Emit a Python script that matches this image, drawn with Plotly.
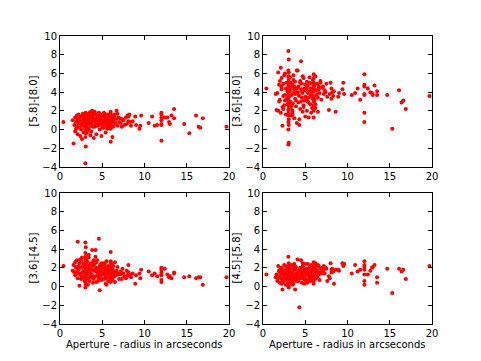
import plotly.graph_objects as go

# Shared aperture radius (arcseconds) per source
aperture = [
    1.5, 1.6, 1.7, 1.8, 1.8, 1.9, 2.0, 2.0, 2.1, 2.1, 2.2, 2.2, 2.3, 2.3, 2.4, 2.4, 2.5, 2.5, 2.6, 2.6,
    2.7, 2.7, 2.8, 2.8, 2.9, 2.9, 1.9, 2.2, 2.4, 2.6,
    3.0, 3.05, 3.0, 3.05, 3.0, 3.05, 3.0, 3.05, 3.0, 3.05, 3.0, 3.05, 3.0, 3.05, 3.0, 3.05, 3.0, 3.05, 3.0, 3.05,
    3.0, 3.05, 3.0, 3.05, 3.0, 3.05, 3.0, 3.05, 3.0, 3.05,
    3.1, 3.2, 3.2, 3.3, 3.3, 3.4, 3.4, 3.5, 3.5, 3.6, 3.6, 3.7, 3.7, 3.8, 3.8, 3.9, 3.9, 4.0, 4.0, 3.1,
    3.3, 3.5, 3.7, 3.9, 3.2, 3.4, 3.6, 3.8, 4.0, 3.5,
    4.1, 4.1, 4.2, 4.2, 4.3, 4.3, 4.4, 4.4, 4.5, 4.5, 4.6, 4.6, 4.7, 4.7, 4.8, 4.8, 4.9, 4.9, 5.0, 5.0,
    4.2, 4.4, 4.6, 4.8, 5.0, 4.1, 4.3, 4.5, 4.7, 4.9,
    5.1, 5.1, 5.2, 5.2, 5.3, 5.3, 5.4, 5.4, 5.5, 5.5, 5.6, 5.6, 5.7, 5.7, 5.8, 5.8, 5.9, 5.9, 5.2, 5.4,
    5.6, 5.8, 5.3, 5.5, 5.7,
    6.0, 6.0, 6.0, 6.0, 6.0, 6.0, 6.0, 6.0, 6.0, 6.0, 6.0, 6.0,
    6.1, 6.1, 6.2, 6.2, 6.3, 6.3, 6.4, 6.5, 6.5, 6.6, 6.7, 6.8, 6.9, 7.0, 6.2, 6.4, 6.6, 6.8,
    7.1, 7.2, 7.3, 7.5, 7.6, 7.8, 7.9, 8.0, 8.1, 8.1, 8.2, 8.4, 8.6, 8.9, 9.0, 9.4, 9.5, 9.6, 7.4, 8.3,
    0.4, 10.5, 10.9, 11.2, 11.5, 12.0, 12.0, 12.0, 12.0, 12.0, 12.0, 12.0, 12.4, 12.7, 12.9, 13.0, 13.2,
    13.5, 13.5, 14.7, 15.3, 16.1, 16.4, 16.6, 16.9, 19.7,
]

# [5.8]-[8.0] colour
c58_80 = [
    1.0, -1.5, 0.5, 1.3, -0.2, 0.8, 1.5, 0.3, 1.1, -0.5, 0.6, 1.6, 0.2, 1.2, -0.7, 0.9, 1.4, 0.0, -1.0, 0.7,
    1.7, 0.4, -0.3, 1.1, 0.8, 1.5, 0.1, 1.0, 0.5, 1.3,
    -3.6, -1.8, -0.8, -0.4, 0.05, 0.2, 0.45, 0.5, 0.65, 0.7, 0.85, 0.9, 1.05, 1.1, 1.2, 1.35, 1.4, 1.55, 1.6, 1.8,
    0.3, 0.6, 0.95, 1.25, -0.2, 0.55, 1.0, 1.45, 0.1, 0.8,
    0.4, 1.2, -0.3, 0.9, 1.6, 0.2, 1.1, 0.7, 1.8, -0.6, 1.3, 0.5, 1.9, 0.8, 2.0, 0.3, 1.5, 1.0, -0.9, 1.7,
    0.6, 1.4, -0.2, 1.2, 0.9, 0.0, 1.6, 0.4, 1.8, 1.1,
    1.0, 0.3, 1.7, 0.6, 1.2, -0.5, 0.9, 1.5, 0.4, 1.1, 1.8, 0.7, 0.0, 1.3, 0.8, 1.6, 0.5, 1.0, 1.4, 0.2,
    1.2, 0.7, 1.5, 1.1, 0.6, 1.9, 0.4, 1.3, 0.9, -0.7,
    0.6, 1.4, 1.0, 0.2, 1.7, 0.8, 1.2, -0.3, 0.5, 1.5, 0.9, 1.3, 0.4, 1.6, 0.7, 1.1, 1.4, 0.3, 1.8, 0.9,
    0.1, 1.2, 1.0, 0.6, 1.5,
    -1.3, 0.1, 0.4, 0.7, 0.9, 1.1, 1.3, 1.5, 1.7, 0.5, 1.0, 1.9,
    1.2, 0.5, -0.8, 1.5, 0.9, 0.3, 1.4, 0.7, 1.6, 1.1, 2.0, 0.4, 1.3, 0.8, 1.0, 1.2, 0.6, 1.7,
    1.2, 0.7, 0.3, 1.0, 0.5, 1.3, 0.6, 1.5, 1.4, 0.9, 1.6, 0.4, 0.9, 1.4, 0.5, 0.1, 0.4, 1.5, 1.1, 0.8,
    0.8, 0.7, 1.4, 0.4, 0.5, 1.8, 1.6, 1.3, 1.0, 0.6, 0.5, -1.2, 1.3, 1.3, 0.8, 0.6, 1.5,
    2.2, 1.2, 0.6, -0.4, 1.5, 0.3, 0.2, 1.2, 0.3,
]

# [3.6]-[8.0] colour
c36_80 = [
    3.8, 2.1, 3.9, 6.1, 2.0, 4.8, 5.2, 3.2, 6.6, 1.8, 4.3, 5.5, 2.4, 0.4, 3.6, 4.9, 5.8, 2.6, 3.1, 6.0,
    4.4, 1.6, 3.3, 5.0, 2.7, 4.1, 3.0, 4.6, 2.2, 3.7,
    8.4, 7.5, 6.3, 6.1, 5.7, 5.4, 5.1, 4.9, 4.6, 4.4, 4.2, 4.0, 3.8, 3.5, 3.2, 3.0, 2.7, 2.4, 2.1, 1.8,
    1.5, 1.1, 0.8, 0.5, 0.0, -1.4, -1.6, 4.7, 3.4, 2.9,
    4.1, 3.0, 5.6, 2.3, 4.5, 3.7, 1.5, 4.8, 2.8, 5.3, 3.9, 1.2, 4.3, 3.3, 5.1, 2.5, 4.0, 6.3, 0.7, 3.6,
    5.0, 2.0, 4.6, 3.1, 4.2, 2.6, 5.8, 3.8, 4.4, 1.7,
    4.0, 6.3, 2.9, 4.6, 0.5, 3.6, 5.2, 2.2, 4.3, 7.3, 3.4, 4.9, 1.9, 3.9, 5.5, 2.6, 4.4, 3.1, 4.8, 1.4,
    3.7, 5.0, 4.1, 2.4, 3.5, 4.5, 1.1, 3.0, 5.7, 4.2,
    4.3, 3.2, 5.1, 2.0, 3.9, 4.7, 1.3, 3.4, 4.1, 5.6, 2.7, 4.4, 3.7, 4.9, 2.3, 4.0, 3.3, 5.3, 4.6, 2.9,
    3.6, 4.2, 3.0, 5.0, 1.8,
    5.9, 5.5, 5.0, 4.6, 4.1, 3.6, 3.0, 2.6, 2.0, 1.3, 4.4, 3.3,
    4.8, 3.1, 5.7, 2.3, 4.2, 3.6, 4.9, 1.9, 3.4, 4.6, 3.9, 5.2, 3.2, 4.5, 2.7, 3.8, 4.3, 5.0,
    4.6, 3.8, 4.2, 4.9, 3.5, 2.1, 3.8, 5.0, 4.4, 3.3, 4.0, 4.1, 1.9, 3.5, 3.9, 4.3, 5.0, 3.8, 4.0, 3.6,
    4.4, 3.7, 3.9, 4.4, 3.2, 5.9, 4.8, 4.6, 3.8, 3.7, 1.8, 0.8, 4.4, 4.0, 3.9, 3.7, 4.7,
    4.1, 3.7, 3.7, 0.1, 4.2, 2.9, 3.1, 2.2, 3.6,
]

# [3.6]-[4.5] colour
c36_45 = [
    1.7, 2.3, 1.5, 2.6, 1.2, 2.0, 2.8, 1.6, 4.8, 0.9, 2.2, 1.8, 0.1, 2.5, 1.3, 2.0, 2.7, 0.8, 1.5, 3.1,
    2.2, 1.0, 1.7, 2.4, 0.6, 1.9, 2.1, 1.4, 2.9, 1.1,
    4.7, 4.2, 3.6, 3.2, 2.9, 2.6, 2.4, 2.2, 2.0, 1.9, 1.7, 1.5, 1.4, 1.2, 1.0, 0.8, 0.5, 0.2, -0.1, 2.8,
    2.1, 1.6, 1.1, 0.7, 3.0, 2.5, 1.8, 1.3, 0.9, 2.3,
    2.0, 1.3, 2.7, 0.9, 2.3, 1.6, 3.1, 0.6, 2.0, 1.4, 2.5, 1.0, 1.8, 3.9, 1.2, 2.2, 0.4, 1.7, 2.8, 1.5,
    0.2, 2.1, 1.3, 2.6, 1.8, 3.4, 1.1, 2.4, 0.8, 1.9,
    1.7, 2.4, 3.2, 1.1, 2.0, 0.5, 1.5, 2.8, 1.2, 1.9, 5.1, 1.4, -0.4, 2.2, 1.0, 1.7, 2.5, 0.7, 1.3, 2.0,
    3.9, 1.6, 0.9, 2.3, 1.4, 1.8, 2.6, 0.6, 1.2, 2.1,
    1.4, 2.1, 0.8, 1.7, 2.4, 1.2, 0.3, 1.9, 1.5, 2.7, 1.0, 1.8, 2.2, 0.6, 1.4, 2.0, 1.1, 1.7, 2.5, 0.9,
    1.6, 1.3, 2.1, 0.2, 1.5,
    3.7, 2.5, 2.1, 1.8, 1.5, 1.2, 0.9, 0.5, 2.7, 1.3, 1.0, 1.7,
    1.3, 2.5, 0.7, 1.8, 2.2, 1.0, 1.5, 2.6, 0.5, 1.2, 1.7, 2.1, 1.4, 0.8, 1.9, 1.1, 1.6, 1.3,
    1.3, 1.6, 0.8, 1.4, 1.1, 0.9, 1.7, 1.2, 2.3, 1.5, 1.3, 1.0, 1.4, 0.3, 1.2, 1.4, 0.9, 1.8, 1.9, 1.1,
    2.2, 1.6, 1.2, 1.4, 1.1, 2.0, 1.8, 1.5, 1.3, 1.2, 0.7, 0.5, 1.9, 1.3, 1.0, 1.1, 0.9,
    1.5, 1.4, 1.0, 1.1, 0.9, 1.0, 1.0, 0.2, 1.0,
]

# [4.5]-[5.8] colour
c45_58 = [
    1.0, 1.3, 0.6, 2.2, 0.9, 1.7, 1.1, 0.4, 1.9, 1.4, 0.8, 2.0, -0.3, 1.6, 1.2, 0.5, 2.3, 1.0, 0.7, 1.8,
    1.3, 0.2, 1.5, 2.1, 0.9, 1.2, 1.6, 0.3, 1.4, 1.7,
    3.2, 2.5, 2.3, 2.1, 1.9, 1.8, 1.6, 1.5, 1.4, 1.3, 1.2, 1.1, 1.0, 0.9, 0.8, 0.6, 0.5, 0.3, 0.0, -0.1,
    2.0, 1.7, 1.3, 0.7, 1.5, 1.1, 0.4, 1.9, 0.9, 1.2,
    1.5, 0.8, 1.9, 0.4, 1.2, 2.3, 0.9, 1.6, 0.2, 1.3, 2.0, 0.7, 1.1, 1.8, -0.3, 1.4, 2.1, 0.6, 1.0, 1.7,
    0.5, 1.2, 2.4, 0.9, 1.5, 1.0, 0.3, 1.9, 1.3, 0.8,
    1.4, 2.9, 1.0, 0.6, -2.2, 1.6, 2.0, 0.9, 2.8, 1.3, 0.4, 1.7, 1.1, 2.2, 0.8, 1.5, 0.3, 1.9, 1.2, 2.4,
    1.7, 0.9, 1.4, 2.0, 0.7, 1.2, 1.8, 1.0, 2.5, 1.6,
    1.3, 0.8, 1.9, 1.5, 2.4, 0.5, 1.2, 1.7, 2.1, 1.0, 0.6, 1.4, 1.8, 2.3, 0.9, 1.6, 1.1, 2.0, 0.4, 1.5,
    2.2, 1.2, 1.7, 0.8, 1.9,
    2.6, 2.2, 1.9, 1.6, 1.3, 1.0, 0.6, 0.3, 1.8, 1.4, 2.0, 1.1,
    1.8, 1.2, 2.5, 0.8, 1.5, 2.1, 1.0, 1.6, 2.3, 1.3, 0.7, 1.9, 1.4, 2.0, 1.1, 1.7, 2.2, 1.5,
    1.7, 2.2, 1.4, 1.9, 0.6, 1.1, 0.9, 2.5, 1.8, 1.5, 1.9, 0.3, 1.8, 1.8, 1.7, 2.5, 2.2, 2.4, 2.0, 1.6,
    1.3, 1.4, 2.3, 1.6, 1.8, 2.7, 2.3, 2.1, 1.8, 1.3, 0.6, 0.2, 1.3, 1.7, 2.0, 2.1, 2.3,
    1.0, 0.4, 1.9, -0.7, 1.9, 1.6, 1.8, 0.8, 2.2,
]

panels = [
    (c58_80, "[5.8]-[8.0]", 1, 1),
    (c36_80, "[3.6]-[8.0]", 1, 2),
    (c36_45, "[3.6]-[4.5]", 2, 1),
    (c45_58, "[4.5]-[5.8]", 2, 2),
]
x_ticks = [0, 5, 10, 15, 20]
y_ticks = [-4, -2, 0, 2, 4, 6, 8, 10]
x_label = "Aperture - radius in arcseconds"

# The page body has an 8px margin, so the figure is sized to fit inside it
# and positions are given relative to the figure's own top-left corner.
W, H = 465, 345
OFF = 8
xpix = {1: (60 - OFF, 229 - OFF), 2: (263 - OFF, 432 - OFF)}
ypix = {1: (36 - OFF, 167 - OFF), 2: (193 - OFF, 324 - OFF)}
xlabel_y = 344 - OFF

fig = go.Figure()
font = dict(family="DejaVu Sans", size=10, color="black")
annotations = []
for i, (ys, label, r, c) in enumerate(panels, start=1):
    sfx = "" if i == 1 else str(i)
    fig.add_trace(go.Scatter(
        x=aperture, y=ys, mode="markers",
        marker=dict(color="#ff0000", size=4, line=dict(width=0)),
        xaxis="x" + sfx, yaxis="y" + sfx, showlegend=False,
    ))
    common = dict(showline=True, linecolor="black", linewidth=1, mirror="ticks",
                  ticks="inside", ticklen=4, tickcolor="black", showgrid=False,
                  zeroline=False, tickfont=font, automargin=False)
    x0, x1 = xpix[c]
    y0, y1 = ypix[r]
    fig.update_layout(**{
        "xaxis" + sfx: dict(domain=[x0 / W, x1 / W], range=[0, 20], tickvals=x_ticks,
                            anchor="y" + sfx, **common),
        "yaxis" + sfx: dict(domain=[1 - y1 / H, 1 - y0 / H], range=[-4, 10], tickvals=y_ticks,
                            anchor="x" + sfx, **common),
    })
    annotations.append(dict(text=label, textangle=-90, font=font, showarrow=False,
                            xref="paper", yref="paper", x=(x0 - 27) / W,
                            y=1 - (y0 + y1) / 2 / H, xanchor="center", yanchor="middle"))
    if r == 2:
        annotations.append(dict(text=x_label, font=font, showarrow=False,
                                xref="paper", yref="paper", x=(x0 + x1) / 2 / W,
                                y=1 - xlabel_y / H, xanchor="center", yanchor="middle"))

fig.update_layout(width=W, height=H, margin=dict(l=0, r=0, t=0, b=0),
                  paper_bgcolor="white", plot_bgcolor="white", font=font,
                  annotations=annotations)
fig.write_html("out.html")
